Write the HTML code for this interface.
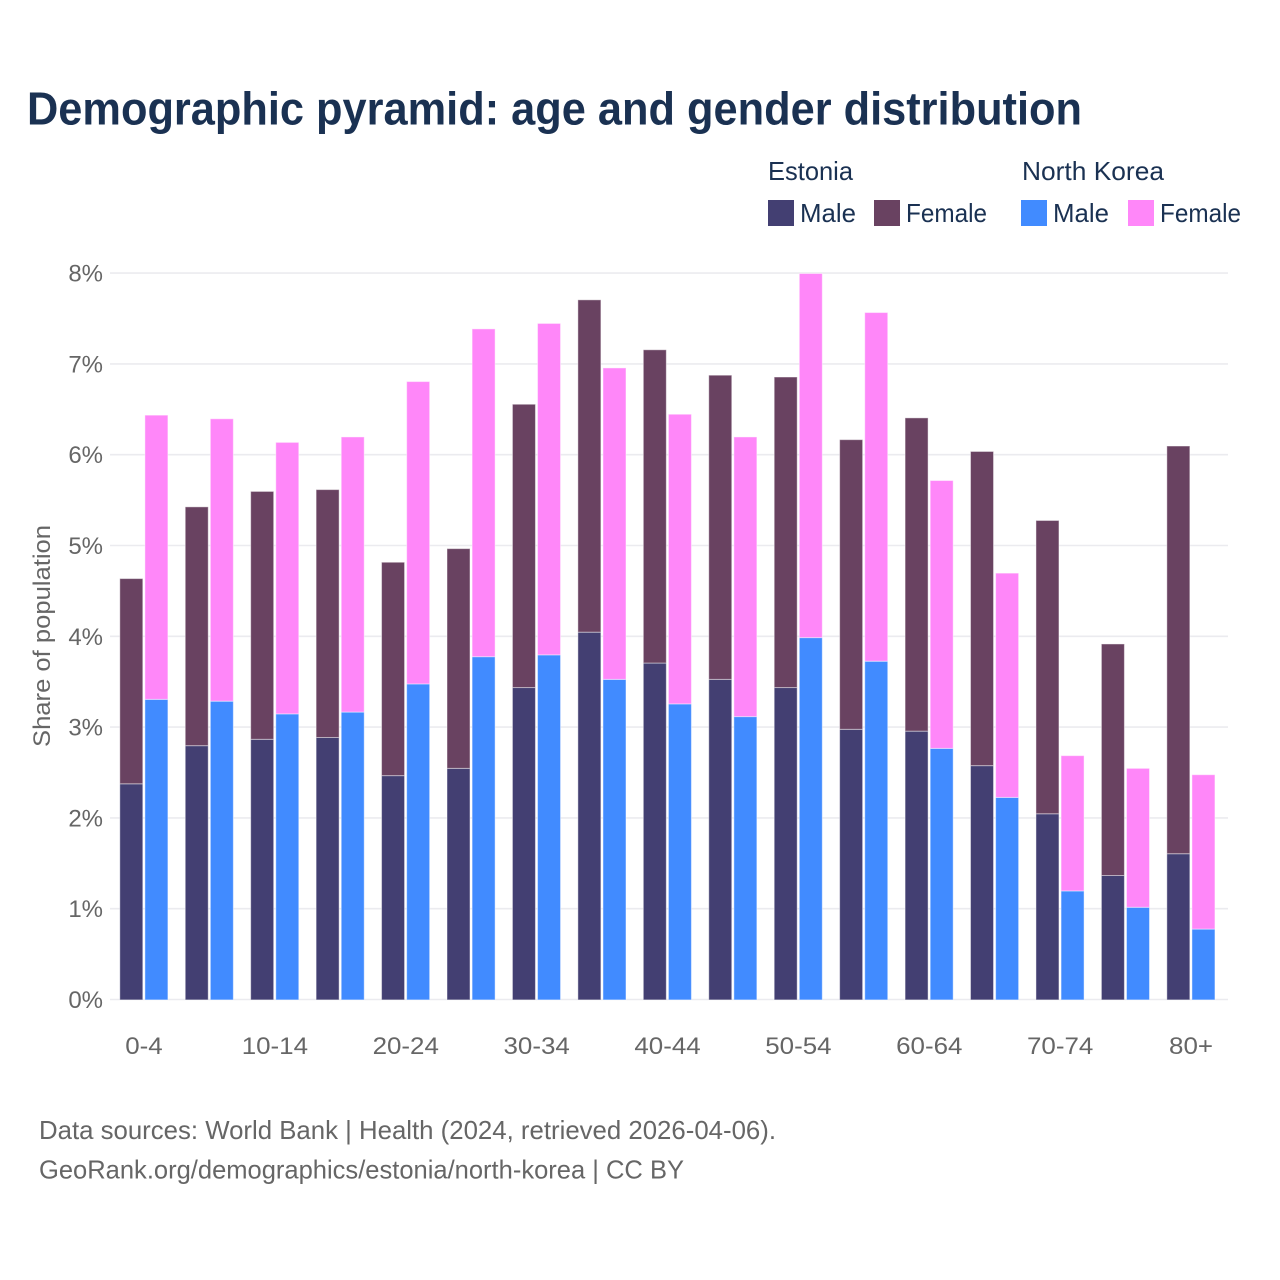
<!DOCTYPE html>
<html lang="en">
<head>
<meta charset="utf-8">
<title>Demographic pyramid</title>
<style>
html,body{margin:0;padding:0;background:#fff;width:1280px;height:1280px;overflow:hidden}
svg{display:block}
text{font-family:"Liberation Sans",sans-serif}
</style>
</head>
<body>
<svg id="chart" xmlns="http://www.w3.org/2000/svg" width="1280" height="1280" viewBox="0 0 1280 1280">
  <rect width="1280" height="1280" fill="#fff"/>
  <text x="27" y="124.5" font-size="46" font-weight="700" fill="#1a3152" textLength="1055" lengthAdjust="spacingAndGlyphs">Demographic pyramid: age and gender distribution</text>

  <g font-size="26" fill="#1a3152">
    <text x="768" y="180" textLength="85" lengthAdjust="spacingAndGlyphs">Estonia</text>
    <text x="1022" y="180" textLength="142" lengthAdjust="spacingAndGlyphs">North Korea</text>
    <rect x="768" y="200" width="26" height="26" fill="#433f72"/>
    <text x="800" y="222" textLength="56" lengthAdjust="spacingAndGlyphs">Male</text>
    <rect x="874" y="200" width="26" height="26" fill="#694261"/>
    <text x="906" y="222" textLength="81" lengthAdjust="spacingAndGlyphs">Female</text>
    <rect x="1021" y="200" width="26" height="26" fill="#418bff"/>
    <text x="1053" y="222" textLength="56" lengthAdjust="spacingAndGlyphs">Male</text>
    <rect x="1128" y="200" width="26" height="26" fill="#ff87f9"/>
    <text x="1160" y="222" textLength="81" lengthAdjust="spacingAndGlyphs">Female</text>
  </g>

  <g id="grid"></g>
  <g id="bars" transform="translate(-0.2,0.4)"></g>
  <g id="yticks"></g>
  <g id="xticks"></g>

  <text transform="translate(50,636) rotate(-90)" text-anchor="middle" font-size="24" fill="#666" textLength="222" lengthAdjust="spacingAndGlyphs">Share of population</text>

  <text x="39" y="1139" font-size="26" fill="#666" textLength="737" lengthAdjust="spacingAndGlyphs">Data sources: World Bank | Health (2024, retrieved 2026-04-06).</text>
  <text x="39" y="1178.5" font-size="26" fill="#666" textLength="645" lengthAdjust="spacingAndGlyphs">GeoRank.org/demographics/estonia/north-korea | CC BY</text>
</svg>
<script>
const ageGroups = ['0-4','5-9','10-14','15-19','20-24','25-29','30-34','35-39','40-44','45-49','50-54','55-59','60-64','65-69','70-74','75-79','80+'];
const estoniaMale = [2.38,2.80,2.87,2.89,2.47,2.55,3.44,4.05,3.71,3.53,3.44,2.98,2.96,2.58,2.05,1.37,1.61];
const estoniaFemale = [2.26,2.63,2.73,2.73,2.35,2.42,3.12,3.66,3.45,3.35,3.42,3.19,3.45,3.46,3.23,2.55,4.49];
const northKoreaMale = [3.31,3.29,3.15,3.17,3.48,3.78,3.80,3.53,3.26,3.12,3.99,3.73,2.77,2.23,1.20,1.02,0.78];
const northKoreaFemale = [3.13,3.11,2.99,3.03,3.33,3.61,3.65,3.43,3.19,3.08,4.01,3.84,2.95,2.47,1.49,1.53,1.70];
const yTicks = [0,1,2,3,4,5,6,7,8];
const xTickLabels = ['0-4','','10-14','','20-24','','30-34','','40-44','','50-54','','60-64','','70-74','','80+'];

const NS = 'http://www.w3.org/2000/svg';
const y = v => 999.5 - v * 90.8;
const groupX = i => 120 + i * 65.44;
const barW = 23;
const barGap = 25.1;

function add(parent, tag, attrs) {
  const el = document.createElementNS(NS, tag);
  for (const k in attrs) el.setAttribute(k, attrs[k]);
  parent.appendChild(el);
  return el;
}

const grid = document.getElementById('grid');
const yG = document.getElementById('yticks');
yTicks.forEach(t => {
  const line = add(grid, 'line', {x1: 110, x2: 1228, y1: y(t), y2: y(t), stroke: '#ebebef', 'stroke-width': 1.6});
  
  
  const lab = add(yG, 'text', {x: 103, y: y(t) + 8.5, 'text-anchor': 'end', 'font-size': 24, fill: '#666'});
  lab.textContent = t + '%';
  
  
});

const bars = document.getElementById('bars');
function drawBar(name, x, base, val, fill) {
  const r = add(bars, 'rect', {x: x, y: y(base + val), width: barW, height: y(base) - y(base + val), fill: fill, stroke: '#fff', 'stroke-opacity': 0.45, 'stroke-width': 1});
  
  
}
ageGroups.forEach((g, i) => {
  const x0 = groupX(i), x1 = x0 + barGap;
  drawBar('bar-estonia-male-' + g, x0, 0, estoniaMale[i], '#433f72');
  drawBar('bar-estonia-female-' + g, x0, estoniaMale[i], estoniaFemale[i], '#694261');
  drawBar('bar-north-korea-male-' + g, x1, 0, northKoreaMale[i], '#418bff');
  drawBar('bar-north-korea-female-' + g, x1, northKoreaMale[i], northKoreaFemale[i], '#ff87f9');
});

const xG = document.getElementById('xticks');
xTickLabels.forEach((l, i) => {
  if (!l) return;
  const t = add(xG, 'text', {x: groupX(i) + 24, y: 1054, 'text-anchor': 'middle', 'font-size': 24, fill: '#666'});
  t.textContent = l;
  t.setAttribute('textLength', t.getComputedTextLength() * 1.08);
  t.setAttribute('lengthAdjust', 'spacingAndGlyphs');
  
  
});
</script>
</body>
</html>
